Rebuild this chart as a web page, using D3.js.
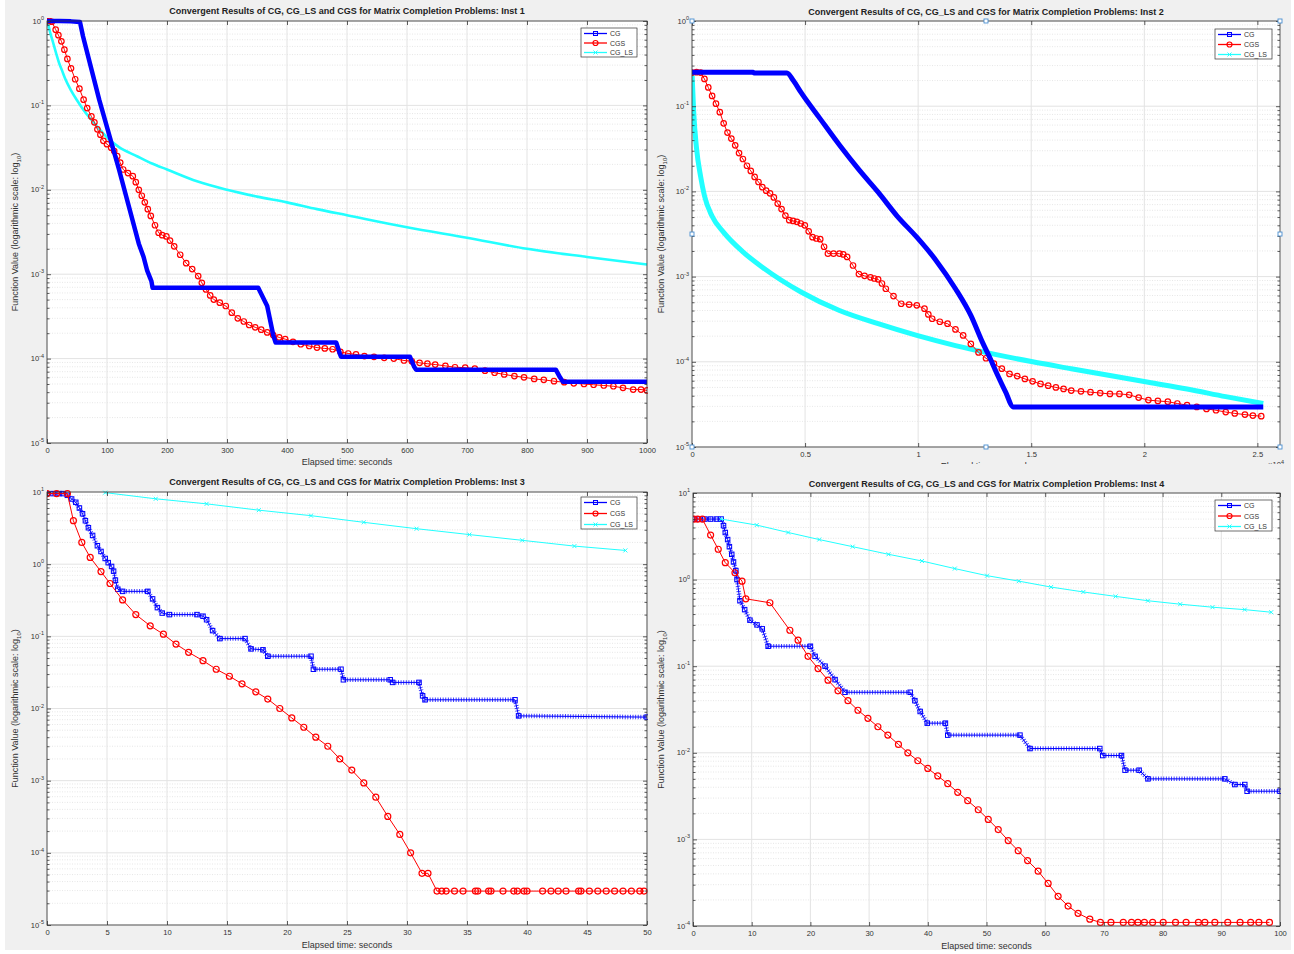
<!DOCTYPE html>
<html>
<head>
<meta charset="utf-8">
<script src="https://cdn.jsdelivr.net/npm/d3@7"></script>
<style>
  body { margin: 0; background: #ffffff; }
  svg text { font-family: "Liberation Sans", Arial, Helvetica, sans-serif; }
</style>
</head>
<body>
<div id="chart"></div>
<script>
// values, [time, function value]

// ---- Inst 1 ----
const inst1CG = [[0,1.0],[20,1.0],[40,0.99],[55,0.97],[60,0.66],[87,0.117],[120,0.0174],[153,0.0023],[161,0.0016],[167,0.0011],[174,8.3e-4],[176,6.9e-4],[352,6.9e-4],[367,4.2e-4],[377,1.9e-4],[381,1.55e-4],[482,1.55e-4],[488,1.15e-4],[490,1.05e-4],[605,1.05e-4],[612,8e-5],[615,7.4e-5],[848,7.4e-5],[855,6e-5],[860,5.3e-5],[1000,5.3e-5]];
const inst1CGS = [[0,1.0],[4,1.0],[8,0.98],[14.5,0.79],[19,0.68],[24,0.575],[29,0.457],[34,0.355],[40,0.275],[47,0.204],[54,0.158],[61,0.117],[67,0.093],[74,0.074],[79,0.063],[84,0.052],[89,0.045],[94,0.038],[100,0.0347],[107,0.0316],[112,0.0288],[117,0.025],[122,0.021],[127,0.0174],[135,0.0158],[143,0.0145],[148,0.0123],[153,0.01],[158,0.0085],[163,0.0071],[168,0.0059],[173,0.0049],[180,0.0038],[186,0.0031],[192,0.0029],[199,0.0028],[205,0.0025],[212,0.00214],[222,0.0017],[232,0.00135],[242,0.00115],[252,9.5e-4],[258,7.9e-4],[265,6.6e-4],[272,5.6e-4],[278,5.0e-4],[288,4.6e-4],[298,4.2e-4],[308,3.5e-4],[318,3.0e-4],[328,2.75e-4],[337,2.5e-4],[347,2.35e-4],[357,2.2e-4],[367,2.04e-4],[377,1.9e-4],[387,1.78e-4],[397,1.7e-4],[410,1.58e-4],[423,1.48e-4],[437,1.41e-4],[450,1.35e-4],[463,1.32e-4],[476,1.29e-4],[489,1.2e-4],[502,1.15e-4],[515,1.12e-4],[529,1.07e-4],[545,1.05e-4],[562,1.02e-4],[578,1.0e-4],[595,9.5e-5],[608,9.3e-5],[621,8.9e-5],[634,8.7e-5],[647,8.5e-5],[664,8.2e-5],[680,7.9e-5],[697,7.8e-5],[713,7.6e-5],[730,7.2e-5],[746,6.8e-5],[762,6.5e-5],[779,6.2e-5],[795,6.0e-5],[812,5.75e-5],[828,5.6e-5],[845,5.4e-5],[862,5.25e-5],[878,5.1e-5],[895,5.0e-5],[911,4.9e-5],[928,4.8e-5],[944,4.7e-5],[960,4.5e-5],[977,4.3e-5],[990,4.3e-5],[1000,4.2e-5]];
const inst1LS = [[0,1.0],[3,0.85],[6,0.7],[10,0.56],[15,0.42],[20,0.32],[25,0.26],[30,0.21],[40,0.151],[50,0.115],[60,0.09],[75,0.066],[90,0.05],[100,0.0417],[120,0.032],[150,0.025],[175,0.0205],[200,0.0174],[250,0.0126],[300,0.01],[350,0.0083],[400,0.0071],[450,0.0059],[500,0.005],[600,0.0036],[700,0.0027],[800,0.002],[900,0.0016],[1000,0.0013]];

// ---- Inst 2 ----
const inst2CG = [[0,0.25],[2700,0.25],[2750,0.245],[4200,0.245],[4480,0.2],[4820,0.145],[5670,0.071],[6520,0.035],[7380,0.018],[8230,0.0098],[9080,0.0051],[9940,0.0029],[10790,0.00155],[11650,7.2e-4],[12330,3.5e-4],[12840,1.7e-4],[13180,1.1e-4],[13520,6.9e-5],[13870,4.4e-5],[14210,2.95e-5],[25260,2.95e-5]];
const inst2CGS = [[0,0.248],[200,0.251],[380,0.248],[550,0.209],[720,0.166],[890,0.132],[1060,0.107],[1230,0.085],[1400,0.063],[1570,0.049],[1740,0.0417],[1910,0.0347],[2080,0.0282],[2250,0.024],[2430,0.02],[2600,0.0174],[2770,0.0148],[2940,0.0129],[3110,0.0112],[3280,0.0102],[3450,0.0095],[3620,0.0085],[3790,0.0072],[3960,0.0062],[4130,0.0052],[4300,0.0046],[4470,0.0045],[4640,0.0044],[4810,0.0042],[4990,0.004],[5160,0.0034],[5330,0.0029],[5500,0.0028],[5670,0.00275],[5840,0.00224],[6010,0.00186],[6260,0.00186],[6520,0.00186],[6690,0.00182],[6860,0.0017],[7120,0.00135],[7380,0.00107],[7630,0.00102],[7890,9.8e-4],[8060,9.5e-4],[8230,9.3e-4],[8400,8.3e-4],[8570,7.2e-4],[8910,5.9e-4],[9250,4.8e-4],[9600,4.7e-4],[9940,4.6e-4],[10280,4.2e-4],[10450,3.6e-4],[10620,3.2e-4],[10960,2.95e-4],[11300,2.8e-4],[11650,2.4e-4],[11990,2.04e-4],[12330,1.62e-4],[12670,1.29e-4],[13000,1.1e-4],[13350,9.5e-5],[13700,8.3e-5],[14040,7.2e-5],[14380,6.8e-5],[14720,6.3e-5],[15060,5.9e-5],[15410,5.5e-5],[15750,5.25e-5],[16090,5.0e-5],[16430,4.8e-5],[16770,4.6e-5],[17200,4.5e-5],[17620,4.4e-5],[18050,4.3e-5],[18480,4.2e-5],[18900,4.2e-5],[19330,4.1e-5],[19750,3.8e-5],[20180,3.55e-5],[20600,3.47e-5],[21040,3.4e-5],[21460,3.24e-5],[21890,3.1e-5],[22320,2.95e-5],[22750,2.8e-5],[23170,2.7e-5],[23600,2.57e-5],[24000,2.48e-5],[24450,2.4e-5],[24800,2.34e-5],[25170,2.3e-5]];
const inst2LS = [[0,0.25],[70,0.09],[200,0.032],[380,0.015],[550,0.0089],[890,0.0051],[1400,0.0033],[2250,0.00195],[3110,0.00129],[4820,6.6e-4],[6520,4.0e-4],[8230,2.8e-4],[9940,2.04e-4],[11650,1.55e-4],[13350,1.23e-4],[15060,1.0e-4],[16770,8.3e-5],[18480,6.9e-5],[20180,5.75e-5],[21890,4.8e-5],[23600,3.9e-5],[25260,3.24e-5]];
// little selection handles that show on the Inst 2 axes box
const inst2Handles = [[0,1],[13000,1],[26000,1],[0,3.16e-3],[26000,3.16e-3],[0,1e-5],[13000,1e-5],[26000,1e-5]];

// ---- Inst 3 ----
const inst3CG = [[0,9.5],[0.5,9.5],[1.0,9.5],[1.35,9.5],[1.7,9.0],[2.05,8.0],[2.4,7.2],[2.7,6.0],[2.96,5.0],[3.2,4.0],[3.45,3.2],[3.8,2.5],[4.2,1.8],[4.5,1.5],[4.85,1.2],[5.1,1.05],[5.38,0.93],[5.55,0.8],[5.7,0.6],[5.9,0.45],[6.3,0.42],[8.4,0.42],[8.8,0.33],[9.2,0.25],[9.6,0.21],[10.2,0.2],[12.5,0.2],[13.0,0.19],[13.3,0.17],[13.8,0.12],[14.4,0.093],[16.5,0.093],[17.0,0.067],[18.0,0.065],[18.4,0.053],[22.0,0.053],[22.2,0.035],[24.5,0.035],[24.7,0.025],[28.6,0.025],[28.8,0.023],[31.0,0.023],[31.3,0.015],[31.5,0.0132],[39.0,0.0132],[39.3,0.0079],[50,0.0076]];
const inst3CGS = [[0,9.5],[0.8,9.5],[1.7,9.5],[2.2,4.0],[2.9,2.0],[3.6,1.24],[4.5,0.79],[5.25,0.54],[6.3,0.32],[7.4,0.2],[8.6,0.14],[9.7,0.107],[10.75,0.078],[11.8,0.06],[13,0.046],[14.1,0.035],[15.2,0.028],[16.25,0.022],[17.4,0.017],[18.4,0.0135],[19.4,0.01],[20.4,0.0074],[21.4,0.0055],[22.4,0.004],[23.4,0.003],[24.4,0.002],[25.4,0.0014],[26.4,9.3e-4],[27.4,5.9e-4],[28.4,3.2e-4],[29.4,1.8e-4],[30.3,1.0e-4],[31.25,5.2e-5],[31.75,5.2e-5],[32.5,2.95e-5],[32.9,2.95e-5],[33.26,2.95e-5],[33.96,2.95e-5],[34.67,2.95e-5],[35.7,2.95e-5],[35.9,2.95e-5],[36.8,2.95e-5],[37.0,2.95e-5],[38.0,2.95e-5],[38.9,2.95e-5],[39.2,2.95e-5],[39.75,2.95e-5],[40.0,2.95e-5],[41.3,2.95e-5],[42.0,2.95e-5],[42.6,2.95e-5],[43.25,2.95e-5],[44.3,2.95e-5],[44.5,2.95e-5],[45.2,2.95e-5],[45.9,2.95e-5],[46.6,2.95e-5],[47.3,2.95e-5],[48.0,2.95e-5],[48.7,2.95e-5],[49.4,2.95e-5],[49.75,2.95e-5]];
const inst3LS = [[4.85,9.8],[9.06,8.05],[13.3,6.85],[17.65,5.6],[22,4.7],[26.4,3.8],[30.8,3.1],[35.2,2.57],[39.6,2.14],[43.95,1.78],[48.2,1.55]];

// ---- Inst 4 ----
const inst4CG = [[0.17,5.0],[1,5],[2,5],[3,5],[4,5],[4.8,5.0],[5.2,4.2],[5.5,3.5],[5.9,2.9],[6.2,2.4],[6.6,1.96],[6.9,1.6],[7.3,1.27],[7.5,1.0],[8,0.57],[8.8,0.45],[9.7,0.34],[10.9,0.3],[11.8,0.27],[12.8,0.17],[20,0.17],[20.8,0.13],[22.5,0.1],[24.2,0.07],[25.9,0.05],[37,0.05],[37.8,0.04],[38.7,0.03],[39.9,0.022],[43,0.022],[43.4,0.016],[55.7,0.016],[57.4,0.0112],[69.3,0.0112],[69.8,0.0093],[73,0.0093],[73.6,0.0063],[76,0.0063],[77.5,0.005],[90.6,0.005],[92.3,0.0043],[94,0.0043],[94.4,0.0036],[100,0.0036]];
const inst4CGS = [[0.17,5.0],[0.8,5.0],[1.6,5.0],[3.0,3.27],[4.3,2.24],[5.5,1.57],[7.15,1.2],[8.35,0.96],[9.0,0.6],[13.1,0.54],[16.5,0.26],[17.9,0.2],[19.6,0.13],[21.3,0.094],[23,0.069],[24.7,0.052],[26.4,0.04],[28.1,0.031],[29.8,0.025],[31.5,0.02],[33.2,0.016],[35,0.0125],[36.6,0.01],[38.3,0.0081],[40,0.0066],[41.7,0.0054],[43.4,0.0044],[45.1,0.0035],[46.8,0.0028],[48.6,0.0022],[50.3,0.0017],[52,0.0013],[53.7,9.7e-4],[55.4,7.4e-4],[57,5.7e-4],[58.8,4.3e-4],[60.5,3.1e-4],[62.2,2.2e-4],[63.9,1.7e-4],[65.6,1.4e-4],[67.6,1.2e-4],[69.4,1.1e-4],[71.2,1.1e-4],[73.3,1.1e-4],[74.7,1.1e-4],[75.8,1.1e-4],[76.9,1.1e-4],[78.3,1.1e-4],[80.1,1.1e-4],[82.2,1.1e-4],[84,1.1e-4],[86.1,1.1e-4],[87.2,1.1e-4],[88.9,1.1e-4],[91.1,1.1e-4],[93.2,1.1e-4],[95,1.1e-4],[96.4,1.1e-4],[98.2,1.1e-4]];
const inst4LS = [[4.8,5.0],[10.85,4.26],[16.2,3.5],[21.5,2.9],[27.2,2.4],[33.3,1.96],[39,1.64],[44.6,1.34],[50.1,1.11],[55.5,0.96],[61,0.82],[66.5,0.72],[72,0.64],[77.5,0.57],[83,0.52],[88.5,0.48],[94,0.45],[98.5,0.42]];

// ticks
const ticks1X = [0,100,200,300,400,500,600,700,800,900,1000];
const ticks2X = [0,5000,10000,15000,20000,25000];
const ticks3X = [0,5,10,15,20,25,30,35,40,45,50];
const ticks4X = [0,10,20,30,40,50,60,70,80,90,100];

const seriesNames = ["CG", "CGS", "CG_LS"];
const titleBase = "Convergent Results of CG, CG_LS and CGS for Matrix Completion Problems: Inst ";

const BLUE = "#0000ff", RED = "#ff0000", CYAN = "#22ffff";

const panels = [
  { n: 1, rect: {x: 47, y: 21, w: 600, h: 422}, xDom: [0, 1000], yExp: [-5, 0], xTicks: ticks1X,
    cg: inst1CG, cgs: inst1CGS, ls: inst1LS, dense: true, cgW: 4.5, lsW: 2.6,
    legend: {x: 581, y: 28, w: 56, h: 29}, ylabX: 18, titleY: 14, xlabY: 465, clipBottom: 954 },
  { n: 2, rect: {x: 692, y: 21, w: 588, h: 426}, xDom: [0, 26000], yExp: [-5, 0], xTicks: ticks2X,
    cg: inst2CG, cgs: inst2CGS, ls: inst2LS, dense: true, cgW: 5, lsW: 5, fmt: d => d / 1e4, expo: true,
    legend: {x: 1215, y: 29, w: 57, h: 30}, ylabX: 664, titleY: 15, xlabY: 469, clipBottom: 464 },
  { n: 3, rect: {x: 47, y: 492, w: 600, h: 433}, xDom: [0, 50], yExp: [-5, 1], xTicks: ticks3X,
    cg: inst3CG, cgs: inst3CGS, ls: inst3LS, dense: false,
    legend: {x: 581, y: 497, w: 56, h: 32}, ylabX: 18, titleY: 485, xlabY: 948, clipBottom: 954 },
  { n: 4, rect: {x: 693, y: 493, w: 587, h: 433}, xDom: [0, 100], yExp: [-4, 1], xTicks: ticks4X,
    cg: inst4CG, cgs: inst4CGS, ls: inst4LS, dense: false,
    legend: {x: 1215, y: 500, w: 57, h: 31}, ylabX: 664, titleY: 487, xlabY: 949, clipBottom: 954 }
];

const svg = d3.select("#chart").append("svg")
  .attr("width", 1294).attr("height", 954);

svg.append("rect").attr("x", 5).attr("y", 0).attr("width", 1286).attr("height", 950).attr("fill", "#f0f0f0");

const defs = svg.append("defs");

function marker(g, type, color, px, py, size) {
  if (type === "square") {
    g.append("rect").attr("x", px - size / 2).attr("y", py - size / 2)
      .attr("width", size).attr("height", size)
      .attr("fill", "none").attr("stroke", color).attr("stroke-width", 1);
  } else if (type === "circle") {
    g.append("circle").attr("cx", px).attr("cy", py).attr("r", size / 2)
      .attr("fill", "none").attr("stroke", color).attr("stroke-width", 1.2);
  } else {
    const s = size / 2;
    g.append("path").attr("d", `M${px - s},${py - s}L${px + s},${py + s}M${px - s},${py + s}L${px + s},${py - s}`)
      .attr("stroke", color).attr("stroke-width", 1).attr("fill", "none");
  }
}

panels.forEach(p => {
  const r = p.rect;
  defs.append("clipPath").attr("id", "clip" + p.n)
    .append("rect").attr("x", r.x).attr("y", r.y - 3).attr("width", r.w + 1).attr("height", r.h + 6);
  defs.append("clipPath").attr("id", "pclip" + p.n)
    .append("rect").attr("x", 0).attr("y", 0).attr("width", 1294).attr("height", p.clipBottom);

  const g = svg.append("g").attr("clip-path", `url(#pclip${p.n})`);

  const x = d3.scaleLinear().domain(p.xDom).range([r.x, r.x + r.w]);
  const y = d3.scaleLog().domain([Math.pow(10, p.yExp[0]), Math.pow(10, p.yExp[1])]).range([r.y + r.h, r.y]);

  const decades = d3.range(p.yExp[0], p.yExp[1] + 1).map(e => Math.pow(10, e));
  const minors = [];
  d3.range(p.yExp[0], p.yExp[1]).forEach(e => {
    for (let k = 2; k <= 9; k++) minors.push(k * Math.pow(10, e));
  });

  g.append("rect").attr("x", r.x).attr("y", r.y).attr("width", r.w).attr("height", r.h).attr("fill", "#fff");

  // grid
  g.append("g").selectAll("line").data(minors).join("line")
    .attr("x1", r.x).attr("x2", r.x + r.w).attr("y1", d => y(d)).attr("y2", d => y(d))
    .attr("stroke", "#dcdcdc").attr("stroke-width", 0.7).attr("stroke-dasharray", "1,1.5");
  g.append("g").selectAll("line").data(decades).join("line")
    .attr("x1", r.x).attr("x2", r.x + r.w).attr("y1", d => y(d)).attr("y2", d => y(d))
    .attr("stroke", "#e3e3e3").attr("stroke-width", 1);
  g.append("g").selectAll("line").data(p.xTicks).join("line")
    .attr("x1", d => x(d)).attr("x2", d => x(d)).attr("y1", r.y).attr("y2", r.y + r.h)
    .attr("stroke", "#e3e3e3").attr("stroke-width", 1);

  // series
  const line = d3.line().x(d => x(d[0])).y(d => y(d[1]));
  const smooth = d3.line().x(d => x(d[0])).y(d => y(d[1])).curve(d3.curveMonotoneX);
  const sg = g.append("g").attr("clip-path", `url(#clip${p.n})`);

  if (p.dense) {
    sg.append("path").datum(p.ls).attr("d", smooth).attr("fill", "none")
      .attr("stroke", CYAN).attr("stroke-width", p.lsW).attr("stroke-linejoin", "round");
    sg.append("path").datum(p.cgs).attr("d", line).attr("fill", "none")
      .attr("stroke", RED).attr("stroke-width", 1);
    p.cgs.forEach(d => marker(sg, "circle", RED, x(d[0]), y(d[1]), 5.5));
    sg.append("path").datum(p.cg).attr("d", p.n === 2 ? smooth : line).attr("fill", "none")
      .attr("stroke", BLUE).attr("stroke-width", p.cgW).attr("stroke-linejoin", "round");
  } else {
    sg.append("path").datum(p.cg).attr("d", line).attr("fill", "none")
      .attr("stroke", BLUE).attr("stroke-width", 1);
    sg.append("path").datum(p.cg).attr("d", line).attr("fill", "none")
      .attr("stroke", BLUE).attr("stroke-width", 4.5).attr("stroke-opacity", 0.75)
      .attr("stroke-dasharray", "1,1.6");
    p.cg.forEach(d => marker(sg, "square", BLUE, x(d[0]), y(d[1]), 4.5));
    sg.append("path").datum(p.cgs).attr("d", line).attr("fill", "none")
      .attr("stroke", RED).attr("stroke-width", 1);
    p.cgs.forEach(d => marker(sg, "circle", RED, x(d[0]), y(d[1]), 6));
    sg.append("path").datum(p.ls).attr("d", line).attr("fill", "none")
      .attr("stroke", CYAN).attr("stroke-width", 1);
    p.ls.forEach(d => marker(sg, "x", CYAN, x(d[0]), y(d[1]), 4));
  }

  // axes box and ticks
  const axCol = "#333";
  const fmt = p.fmt || (d => d);
  const xb = g.append("g").attr("transform", `translate(0,${r.y + r.h})`)
    .call(d3.axisBottom(x).tickValues(p.xTicks).tickSizeInner(-4).tickSizeOuter(0).tickPadding(5).tickFormat(fmt));
  const xt = g.append("g").attr("transform", `translate(0,${r.y})`)
    .call(d3.axisTop(x).tickValues(p.xTicks).tickSizeInner(-4).tickSizeOuter(0).tickFormat(""));
  const yl = g.append("g").attr("transform", `translate(${r.x},0)`)
    .call(d3.axisLeft(y).tickValues(decades).tickSizeInner(-4).tickSizeOuter(0).tickFormat(""));
  const yr = g.append("g").attr("transform", `translate(${r.x + r.w},0)`)
    .call(d3.axisRight(y).tickValues(decades).tickSizeInner(-4).tickSizeOuter(0).tickFormat(""));
  const ylm = g.append("g").attr("transform", `translate(${r.x},0)`)
    .call(d3.axisLeft(y).tickValues(minors).tickSizeInner(-2.5).tickSizeOuter(0).tickFormat(""));
  const yrm = g.append("g").attr("transform", `translate(${r.x + r.w},0)`)
    .call(d3.axisRight(y).tickValues(minors).tickSizeInner(-2.5).tickSizeOuter(0).tickFormat(""));
  [xb, xt, yl, yr, ylm, yrm].forEach(a => {
    a.select(".domain").remove();
    a.selectAll("line").attr("stroke", axCol).attr("stroke-width", 0.8);
    a.selectAll("text").attr("font-size", 7.6).attr("fill", "#333").attr("font-family", null);
  });
  g.append("rect").attr("x", r.x).attr("y", r.y).attr("width", r.w).attr("height", r.h)
    .attr("fill", "none").attr("stroke", axCol).attr("stroke-width", 0.8);

  // y tick labels: 10^k
  decades.forEach(d => {
    const e = Math.round(Math.log10(d));
    const t = g.append("text").attr("x", r.x - 3).attr("y", y(d) + 2.5)
      .attr("text-anchor", "end").attr("font-size", 7.6).attr("fill", "#333");
    t.append("tspan").text("10");
    t.append("tspan").attr("dy", -3.5).attr("font-size", 5.5).text(e);
  });

  if (p.expo) {
    const t = g.append("text").attr("x", r.x + r.w - 12).attr("y", r.y + r.h + 20)
      .attr("font-size", 7.6).attr("fill", "#333");
    t.append("tspan").text("\u00d710");
    t.append("tspan").attr("dy", -3.5).attr("font-size", 5.5).text("4");
  }

  // handles on Inst 2
  if (p.n === 2) {
    inst2Handles.forEach(d => {
      g.append("rect").attr("x", x(d[0]) - 2).attr("y", y(d[1]) - 2).attr("width", 4).attr("height", 4)
        .attr("fill", "#fff").attr("stroke", "#4a8fd0").attr("stroke-width", 0.9);
    });
  }

  // titles / labels
  g.append("text").attr("x", r.x + r.w / 2).attr("y", p.titleY).attr("text-anchor", "middle")
    .attr("font-size", 9).attr("font-weight", "bold").attr("fill", "#222")
    .text(titleBase + p.n);
  g.append("text").attr("x", r.x + r.w / 2).attr("y", p.xlabY).attr("text-anchor", "middle")
    .attr("font-size", 9).attr("fill", "#333").text("Elapsed time: seconds");
  const yt = g.append("text").attr("transform", `translate(${p.ylabX},${r.y + r.h / 2}) rotate(-90)`)
    .attr("text-anchor", "middle").attr("font-size", 9).attr("fill", "#333");
  yt.append("tspan").text("Function Value (logarithmic scale: log");
  yt.append("tspan").attr("dy", 2.5).attr("font-size", 6).text("10");
  yt.append("tspan").attr("dy", -2.5).text(")");

  // legend
  const L = p.legend;
  const lg = g.append("g");
  lg.append("rect").attr("x", L.x).attr("y", L.y).attr("width", L.w).attr("height", L.h)
    .attr("fill", "#fff").attr("stroke", "#333").attr("stroke-width", 0.7);
  const cols = [BLUE, RED, CYAN];
  const mk = ["square", "circle", "x"];
  seriesNames.forEach((name, i) => {
    const ly = L.y + 5.5 + i * (L.h - 10) / 2;
    lg.append("line").attr("x1", L.x + 3).attr("x2", L.x + 26).attr("y1", ly).attr("y2", ly)
      .attr("stroke", cols[i]).attr("stroke-width", 1.3);
    marker(lg, mk[i], cols[i], L.x + 14.5, ly, i === 1 ? 5 : 4);
    lg.append("text").attr("x", L.x + 29).attr("y", ly + 2.5).attr("font-size", 7).attr("fill", "#333").text(name);
  });
});
</script>
</body>
</html>
